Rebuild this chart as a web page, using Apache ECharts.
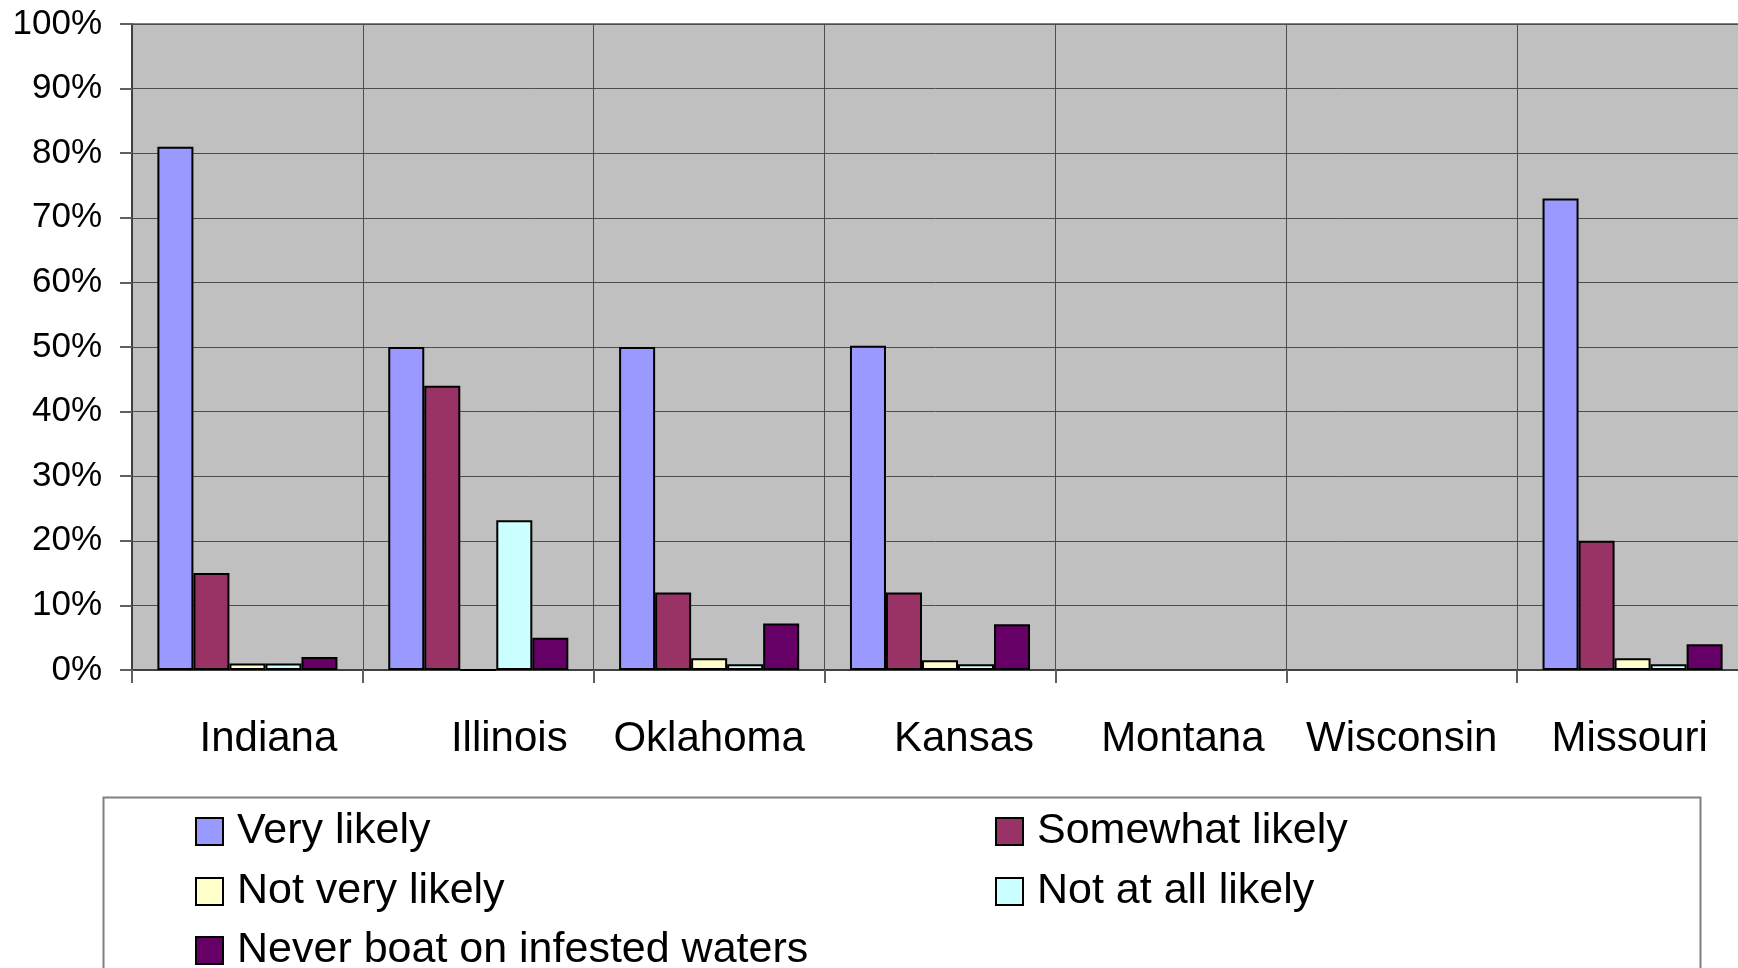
<!DOCTYPE html>
<html>
<head>
<meta charset="utf-8">
<script src="https://cdn.jsdelivr.net/npm/echarts@6/dist/echarts.min.js"></script>
<style>
  html, body { margin: 0; padding: 0; background: #fff; }
  #chart { width: 1738px; height: 968px; }
</style>
</head>
<body>
<div id="chart"></div>
<script>
// data (percent)
const states = ["Indiana", "Illinois", "Oklahoma", "Kansas", "Montana", "Wisconsin", "Missouri"];
const seriesNames = ["Very likely", "Somewhat likely", "Not very likely", "Not at all likely", "Never boat on infested waters"];
const veryLikely = [81, 50, 50, 50.2, null, null, 73];
const somewhatLikely = [15, 44, 12, 12, null, null, 20];
const notVeryLikely = [1, 0, 1.8, 1.5, null, null, 1.8];
const notAtAllLikely = [1, 23.2, 0.9, 0.9, null, null, 0.9];
const neverBoat = [2, 5, 7.2, 7.1, null, null, 4];
const yTicks = [0, 10, 20, 30, 40, 50, 60, 70, 80, 90, 100];

// Excel nudged some category labels sideways
const labelNudge = [21, 31, 0, 24, 12, 0, -3];
// legend slots: [left, top] per series, two columns like the original
const legendSlots = [[195, 810], [995, 810], [195, 870], [995, 870], [195, 929]];

const font = "Liberation Sans, Arial, sans-serif";

function bar(name, data, color) {
  return {
    name: name,
    type: "bar",
    data: data,
    barGap: "0%",
    barCategoryGap: "22%",
    itemStyle: {
      color: color,
      borderColor: "#000",
      borderWidth: 2
    }
  };
}

let chart = echarts.init(document.getElementById("chart"));

let option = {
  backgroundColor: "#fff",
  animation: false,
  textStyle: { fontFamily: font },
  grid: {
    left: 132,
    top: 24,
    right: -10,
    bottom: 298,
    outerBoundsMode: "none",
    show: true,
    backgroundColor: "#c0c0c0",
    borderColor: "#808080",
    borderWidth: 2
  },
  legend: seriesNames.map((name, i) => ({
    data: [name],
    left: legendSlots[i][0],
    top: legendSlots[i][1],
    padding: 0,
    icon: "rect",
    itemWidth: 27,
    itemHeight: 27,
    selectedMode: false,
    textStyle: { fontFamily: font, fontSize: 43, color: "#000", padding: [0, 0, 0, 9] }
  })),
  graphic: [
    {
      type: "rect",
      left: 101,
      top: 795,
      shape: { width: 1597, height: 300 },
      style: { fill: "none", stroke: "#808080", lineWidth: 2 },
      z: -1
    }
  ],
  xAxis: {
    type: "category",
    data: states.map((s, i) => ({
      value: s,
      textStyle: {
        padding: labelNudge[i] >= 0 ? [0, 0, 0, 2 * labelNudge[i]] : [0, -2 * labelNudge[i], 0, 0]
      }
    })),
    boundaryGap: true,
    axisLine: { show: true, lineStyle: { color: "#404040", width: 2 } },
    axisTick: { show: true, length: 13, lineStyle: { color: "#606060", width: 2 } },
    splitLine: { show: true, lineStyle: { color: "#4d4d4d", width: 1 } },
    axisLabel: {
      interval: 0,
      margin: 48,
      fontSize: 42,
      fontFamily: font,
      color: "#000",
      hideOverlap: false
    }
  },
  yAxis: {
    type: "value",
    min: yTicks[0],
    max: yTicks[yTicks.length - 1],
    interval: 10,
    axisLine: { show: true, lineStyle: { color: "#404040", width: 2 } },
    axisTick: { show: true, length: 12, lineStyle: { color: "#606060", width: 2 } },
    splitLine: { show: true, lineStyle: { color: "#4d4d4d", width: 1 } },
    axisLabel: {
      margin: 30,
      fontSize: 35,
      fontFamily: font,
      color: "#000",
      formatter: v => v + "%"
    }
  },
  series: [
    bar(seriesNames[0], veryLikely, "#9999ff"),
    bar(seriesNames[1], somewhatLikely, "#993366"),
    bar(seriesNames[2], notVeryLikely, "#ffffcc"),
    bar(seriesNames[3], notAtAllLikely, "#ccffff"),
    bar(seriesNames[4], neverBoat, "#660066")
  ]
};

chart.setOption(option);
</script>
</body>
</html>
